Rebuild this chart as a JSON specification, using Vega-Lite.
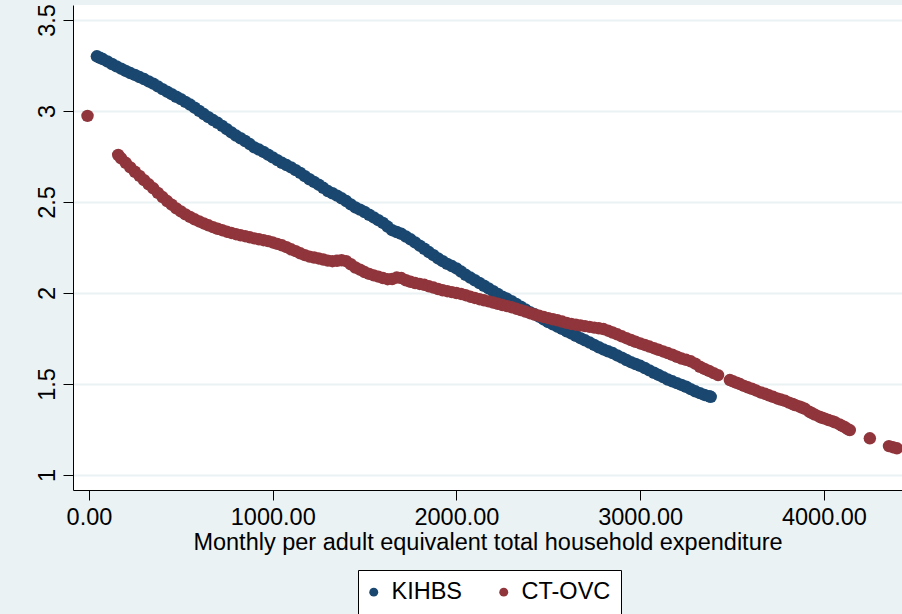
{
 "$schema": "https://vega.github.io/schema/vega-lite/v6.json",
 "width": 829,
 "height": 485,
 "autosize": {"type": "none"},
 "padding": {"left": 73, "top": 5, "right": 0, "bottom": 124},
 "background": "#EAF2F3",
 "config": {
  "view": {"fill": "white", "stroke": null},
  "font": "Liberation Sans",
  "axis": {
   "domainColor": "#000000",
   "domainWidth": 1,
   "tickColor": "#000000",
   "tickWidth": 1,
   "tickSize": 10,
   "labelColor": "#000000",
   "labelFont": "Liberation Sans",
   "labelFontSize": 23.5,
   "titleColor": "#000000",
   "titleFont": "Liberation Sans",
   "titleFontSize": 23.5,
   "titleFontWeight": "normal"
  }
 },
 "data": {"values": [
  {"s":"KIHBS","x":43,"y":3.300},{"s":"KIHBS","x":60,"y":3.292},{"s":"KIHBS","x":75,"y":3.285},{"s":"KIHBS","x":100,"y":3.272},
  {"s":"KIHBS","x":125,"y":3.258},{"s":"KIHBS","x":150,"y":3.245},{"s":"KIHBS","x":175,"y":3.232},{"s":"KIHBS","x":200,"y":3.220},
  {"s":"KIHBS","x":225,"y":3.208},{"s":"KIHBS","x":250,"y":3.198},{"s":"KIHBS","x":275,"y":3.186},{"s":"KIHBS","x":300,"y":3.175},
  {"s":"KIHBS","x":325,"y":3.162},{"s":"KIHBS","x":350,"y":3.150},{"s":"KIHBS","x":375,"y":3.135},{"s":"KIHBS","x":400,"y":3.120},
  {"s":"KIHBS","x":425,"y":3.106},{"s":"KIHBS","x":450,"y":3.092},{"s":"KIHBS","x":475,"y":3.078},{"s":"KIHBS","x":500,"y":3.065},
  {"s":"KIHBS","x":525,"y":3.050},{"s":"KIHBS","x":550,"y":3.035},{"s":"KIHBS","x":575,"y":3.018},{"s":"KIHBS","x":600,"y":3.000},
  {"s":"KIHBS","x":625,"y":2.983},{"s":"KIHBS","x":650,"y":2.966},{"s":"KIHBS","x":675,"y":2.950},{"s":"KIHBS","x":700,"y":2.935},
  {"s":"KIHBS","x":725,"y":2.918},{"s":"KIHBS","x":750,"y":2.900},{"s":"KIHBS","x":775,"y":2.882},{"s":"KIHBS","x":800,"y":2.865},
  {"s":"KIHBS","x":825,"y":2.850},{"s":"KIHBS","x":850,"y":2.835},{"s":"KIHBS","x":875,"y":2.818},{"s":"KIHBS","x":900,"y":2.800},
  {"s":"KIHBS","x":925,"y":2.788},{"s":"KIHBS","x":950,"y":2.775},{"s":"KIHBS","x":975,"y":2.760},{"s":"KIHBS","x":1000,"y":2.745},
  {"s":"KIHBS","x":1025,"y":2.730},{"s":"KIHBS","x":1050,"y":2.715},{"s":"KIHBS","x":1075,"y":2.703},{"s":"KIHBS","x":1100,"y":2.690},
  {"s":"KIHBS","x":1125,"y":2.675},{"s":"KIHBS","x":1150,"y":2.660},{"s":"KIHBS","x":1175,"y":2.642},{"s":"KIHBS","x":1200,"y":2.625},
  {"s":"KIHBS","x":1225,"y":2.610},{"s":"KIHBS","x":1250,"y":2.595},{"s":"KIHBS","x":1275,"y":2.578},{"s":"KIHBS","x":1300,"y":2.560},
  {"s":"KIHBS","x":1325,"y":2.548},{"s":"KIHBS","x":1350,"y":2.535},{"s":"KIHBS","x":1375,"y":2.520},{"s":"KIHBS","x":1400,"y":2.505},
  {"s":"KIHBS","x":1425,"y":2.487},{"s":"KIHBS","x":1450,"y":2.470},{"s":"KIHBS","x":1475,"y":2.458},{"s":"KIHBS","x":1500,"y":2.445},
  {"s":"KIHBS","x":1525,"y":2.430},{"s":"KIHBS","x":1550,"y":2.415},{"s":"KIHBS","x":1575,"y":2.400},{"s":"KIHBS","x":1600,"y":2.385},
  {"s":"KIHBS","x":1625,"y":2.365},{"s":"KIHBS","x":1650,"y":2.345},{"s":"KIHBS","x":1675,"y":2.335},{"s":"KIHBS","x":1700,"y":2.325},
  {"s":"KIHBS","x":1725,"y":2.310},{"s":"KIHBS","x":1750,"y":2.295},{"s":"KIHBS","x":1775,"y":2.278},{"s":"KIHBS","x":1800,"y":2.260},
  {"s":"KIHBS","x":1825,"y":2.243},{"s":"KIHBS","x":1850,"y":2.225},{"s":"KIHBS","x":1875,"y":2.208},{"s":"KIHBS","x":1900,"y":2.190},
  {"s":"KIHBS","x":1925,"y":2.175},{"s":"KIHBS","x":1950,"y":2.160},{"s":"KIHBS","x":1975,"y":2.148},{"s":"KIHBS","x":2000,"y":2.135},
  {"s":"KIHBS","x":2025,"y":2.118},{"s":"KIHBS","x":2050,"y":2.100},{"s":"KIHBS","x":2075,"y":2.085},{"s":"KIHBS","x":2100,"y":2.070},
  {"s":"KIHBS","x":2125,"y":2.055},{"s":"KIHBS","x":2150,"y":2.040},{"s":"KIHBS","x":2175,"y":2.025},{"s":"KIHBS","x":2200,"y":2.010},
  {"s":"KIHBS","x":2225,"y":1.995},{"s":"KIHBS","x":2250,"y":1.980},{"s":"KIHBS","x":2275,"y":1.968},{"s":"KIHBS","x":2300,"y":1.955},
  {"s":"KIHBS","x":2325,"y":1.940},{"s":"KIHBS","x":2350,"y":1.925},{"s":"KIHBS","x":2375,"y":1.910},{"s":"KIHBS","x":2400,"y":1.895},
  {"s":"KIHBS","x":2425,"y":1.883},{"s":"KIHBS","x":2450,"y":1.870},{"s":"KIHBS","x":2475,"y":1.855},{"s":"KIHBS","x":2500,"y":1.840},
  {"s":"KIHBS","x":2525,"y":1.828},{"s":"KIHBS","x":2550,"y":1.815},{"s":"KIHBS","x":2575,"y":1.803},{"s":"KIHBS","x":2600,"y":1.790},
  {"s":"KIHBS","x":2625,"y":1.778},{"s":"KIHBS","x":2650,"y":1.765},{"s":"KIHBS","x":2675,"y":1.752},{"s":"KIHBS","x":2700,"y":1.740},
  {"s":"KIHBS","x":2725,"y":1.728},{"s":"KIHBS","x":2750,"y":1.715},{"s":"KIHBS","x":2775,"y":1.702},{"s":"KIHBS","x":2800,"y":1.690},
  {"s":"KIHBS","x":2825,"y":1.680},{"s":"KIHBS","x":2850,"y":1.670},{"s":"KIHBS","x":2875,"y":1.657},{"s":"KIHBS","x":2900,"y":1.645},
  {"s":"KIHBS","x":2925,"y":1.632},{"s":"KIHBS","x":2950,"y":1.620},{"s":"KIHBS","x":2975,"y":1.610},{"s":"KIHBS","x":3000,"y":1.600},
  {"s":"KIHBS","x":3025,"y":1.588},{"s":"KIHBS","x":3050,"y":1.575},{"s":"KIHBS","x":3075,"y":1.562},{"s":"KIHBS","x":3100,"y":1.550},
  {"s":"KIHBS","x":3125,"y":1.538},{"s":"KIHBS","x":3150,"y":1.525},{"s":"KIHBS","x":3175,"y":1.515},{"s":"KIHBS","x":3200,"y":1.505},
  {"s":"KIHBS","x":3225,"y":1.495},{"s":"KIHBS","x":3250,"y":1.485},{"s":"KIHBS","x":3275,"y":1.472},{"s":"KIHBS","x":3300,"y":1.460},
  {"s":"KIHBS","x":3325,"y":1.450},{"s":"KIHBS","x":3350,"y":1.440},{"s":"KIHBS","x":3375,"y":1.433},{"s":"KIHBS","x":3384,"y":1.430},
  {"s":"CT-OVC","x":-8,"y":2.973},
  {"s":"CT-OVC","x":159,"y":2.758},{"s":"CT-OVC","x":175,"y":2.740},{"s":"CT-OVC","x":200,"y":2.715},{"s":"CT-OVC","x":225,"y":2.690},
  {"s":"CT-OVC","x":250,"y":2.666},{"s":"CT-OVC","x":275,"y":2.643},{"s":"CT-OVC","x":300,"y":2.620},{"s":"CT-OVC","x":325,"y":2.597},
  {"s":"CT-OVC","x":350,"y":2.575},{"s":"CT-OVC","x":375,"y":2.550},{"s":"CT-OVC","x":400,"y":2.527},{"s":"CT-OVC","x":425,"y":2.505},
  {"s":"CT-OVC","x":450,"y":2.485},{"s":"CT-OVC","x":475,"y":2.465},{"s":"CT-OVC","x":500,"y":2.448},{"s":"CT-OVC","x":525,"y":2.432},
  {"s":"CT-OVC","x":550,"y":2.418},{"s":"CT-OVC","x":575,"y":2.405},{"s":"CT-OVC","x":600,"y":2.393},{"s":"CT-OVC","x":625,"y":2.382},
  {"s":"CT-OVC","x":650,"y":2.372},{"s":"CT-OVC","x":675,"y":2.362},{"s":"CT-OVC","x":700,"y":2.353},{"s":"CT-OVC","x":725,"y":2.345},
  {"s":"CT-OVC","x":750,"y":2.337},{"s":"CT-OVC","x":775,"y":2.330},{"s":"CT-OVC","x":800,"y":2.323},{"s":"CT-OVC","x":825,"y":2.317},
  {"s":"CT-OVC","x":850,"y":2.312},{"s":"CT-OVC","x":875,"y":2.306},{"s":"CT-OVC","x":900,"y":2.300},{"s":"CT-OVC","x":925,"y":2.295},
  {"s":"CT-OVC","x":950,"y":2.290},{"s":"CT-OVC","x":975,"y":2.285},{"s":"CT-OVC","x":1000,"y":2.278},{"s":"CT-OVC","x":1025,"y":2.270},
  {"s":"CT-OVC","x":1050,"y":2.262},{"s":"CT-OVC","x":1075,"y":2.252},{"s":"CT-OVC","x":1100,"y":2.240},{"s":"CT-OVC","x":1125,"y":2.230},
  {"s":"CT-OVC","x":1150,"y":2.218},{"s":"CT-OVC","x":1175,"y":2.208},{"s":"CT-OVC","x":1200,"y":2.200},{"s":"CT-OVC","x":1225,"y":2.195},
  {"s":"CT-OVC","x":1250,"y":2.190},{"s":"CT-OVC","x":1275,"y":2.184},{"s":"CT-OVC","x":1300,"y":2.178},{"s":"CT-OVC","x":1325,"y":2.175},
  {"s":"CT-OVC","x":1350,"y":2.177},{"s":"CT-OVC","x":1375,"y":2.180},{"s":"CT-OVC","x":1400,"y":2.175},{"s":"CT-OVC","x":1425,"y":2.158},
  {"s":"CT-OVC","x":1450,"y":2.140},{"s":"CT-OVC","x":1475,"y":2.128},{"s":"CT-OVC","x":1500,"y":2.115},{"s":"CT-OVC","x":1525,"y":2.105},
  {"s":"CT-OVC","x":1550,"y":2.097},{"s":"CT-OVC","x":1575,"y":2.090},{"s":"CT-OVC","x":1600,"y":2.082},{"s":"CT-OVC","x":1625,"y":2.076},
  {"s":"CT-OVC","x":1650,"y":2.077},{"s":"CT-OVC","x":1675,"y":2.085},{"s":"CT-OVC","x":1700,"y":2.082},{"s":"CT-OVC","x":1725,"y":2.070},
  {"s":"CT-OVC","x":1750,"y":2.062},{"s":"CT-OVC","x":1775,"y":2.055},{"s":"CT-OVC","x":1800,"y":2.050},{"s":"CT-OVC","x":1825,"y":2.045},
  {"s":"CT-OVC","x":1850,"y":2.037},{"s":"CT-OVC","x":1875,"y":2.030},{"s":"CT-OVC","x":1900,"y":2.022},{"s":"CT-OVC","x":1925,"y":2.015},
  {"s":"CT-OVC","x":1950,"y":2.010},{"s":"CT-OVC","x":1975,"y":2.005},{"s":"CT-OVC","x":2000,"y":2.000},{"s":"CT-OVC","x":2025,"y":1.995},
  {"s":"CT-OVC","x":2050,"y":1.988},{"s":"CT-OVC","x":2075,"y":1.980},{"s":"CT-OVC","x":2100,"y":1.973},{"s":"CT-OVC","x":2125,"y":1.966},
  {"s":"CT-OVC","x":2150,"y":1.960},{"s":"CT-OVC","x":2175,"y":1.954},{"s":"CT-OVC","x":2200,"y":1.948},{"s":"CT-OVC","x":2225,"y":1.941},
  {"s":"CT-OVC","x":2250,"y":1.934},{"s":"CT-OVC","x":2275,"y":1.928},{"s":"CT-OVC","x":2300,"y":1.922},{"s":"CT-OVC","x":2325,"y":1.914},
  {"s":"CT-OVC","x":2350,"y":1.906},{"s":"CT-OVC","x":2375,"y":1.898},{"s":"CT-OVC","x":2400,"y":1.889},{"s":"CT-OVC","x":2425,"y":1.882},
  {"s":"CT-OVC","x":2450,"y":1.875},{"s":"CT-OVC","x":2475,"y":1.868},{"s":"CT-OVC","x":2500,"y":1.862},{"s":"CT-OVC","x":2525,"y":1.856},
  {"s":"CT-OVC","x":2550,"y":1.850},{"s":"CT-OVC","x":2575,"y":1.843},{"s":"CT-OVC","x":2600,"y":1.836},{"s":"CT-OVC","x":2625,"y":1.830},
  {"s":"CT-OVC","x":2650,"y":1.826},{"s":"CT-OVC","x":2675,"y":1.822},{"s":"CT-OVC","x":2700,"y":1.818},{"s":"CT-OVC","x":2725,"y":1.814},
  {"s":"CT-OVC","x":2750,"y":1.810},{"s":"CT-OVC","x":2775,"y":1.806},{"s":"CT-OVC","x":2800,"y":1.802},{"s":"CT-OVC","x":2825,"y":1.793},
  {"s":"CT-OVC","x":2850,"y":1.783},{"s":"CT-OVC","x":2875,"y":1.773},{"s":"CT-OVC","x":2900,"y":1.762},{"s":"CT-OVC","x":2925,"y":1.752},
  {"s":"CT-OVC","x":2950,"y":1.742},{"s":"CT-OVC","x":2975,"y":1.732},{"s":"CT-OVC","x":3000,"y":1.723},{"s":"CT-OVC","x":3025,"y":1.715},
  {"s":"CT-OVC","x":3050,"y":1.706},{"s":"CT-OVC","x":3075,"y":1.697},{"s":"CT-OVC","x":3100,"y":1.688},{"s":"CT-OVC","x":3125,"y":1.679},
  {"s":"CT-OVC","x":3150,"y":1.670},{"s":"CT-OVC","x":3175,"y":1.661},{"s":"CT-OVC","x":3200,"y":1.650},{"s":"CT-OVC","x":3225,"y":1.640},
  {"s":"CT-OVC","x":3250,"y":1.633},{"s":"CT-OVC","x":3275,"y":1.625},{"s":"CT-OVC","x":3300,"y":1.612},{"s":"CT-OVC","x":3325,"y":1.595},
  {"s":"CT-OVC","x":3350,"y":1.583},{"s":"CT-OVC","x":3375,"y":1.572},{"s":"CT-OVC","x":3400,"y":1.560},{"s":"CT-OVC","x":3424,"y":1.549},
  {"s":"CT-OVC","x":3488,"y":1.522},{"s":"CT-OVC","x":3505,"y":1.515},{"s":"CT-OVC","x":3525,"y":1.507},{"s":"CT-OVC","x":3543,"y":1.500},
  {"s":"CT-OVC","x":3565,"y":1.490},{"s":"CT-OVC","x":3585,"y":1.482},{"s":"CT-OVC","x":3608,"y":1.474},{"s":"CT-OVC","x":3630,"y":1.465},
  {"s":"CT-OVC","x":3655,"y":1.454},{"s":"CT-OVC","x":3679,"y":1.447},{"s":"CT-OVC","x":3700,"y":1.438},{"s":"CT-OVC","x":3723,"y":1.430},
  {"s":"CT-OVC","x":3745,"y":1.421},{"s":"CT-OVC","x":3765,"y":1.415},{"s":"CT-OVC","x":3788,"y":1.408},{"s":"CT-OVC","x":3810,"y":1.398},
  {"s":"CT-OVC","x":3830,"y":1.390},{"s":"CT-OVC","x":3842,"y":1.385},{"s":"CT-OVC","x":3865,"y":1.377},{"s":"CT-OVC","x":3880,"y":1.371},
  {"s":"CT-OVC","x":3897,"y":1.364},{"s":"CT-OVC","x":3920,"y":1.348},{"s":"CT-OVC","x":3935,"y":1.340},{"s":"CT-OVC","x":3951,"y":1.332},
  {"s":"CT-OVC","x":3975,"y":1.321},{"s":"CT-OVC","x":3990,"y":1.315},{"s":"CT-OVC","x":4005,"y":1.310},{"s":"CT-OVC","x":4025,"y":1.302},
  {"s":"CT-OVC","x":4045,"y":1.296},{"s":"CT-OVC","x":4060,"y":1.290},{"s":"CT-OVC","x":4085,"y":1.278},{"s":"CT-OVC","x":4100,"y":1.270},
  {"s":"CT-OVC","x":4114,"y":1.263},{"s":"CT-OVC","x":4130,"y":1.252},{"s":"CT-OVC","x":4141,"y":1.247},{"s":"CT-OVC","x":4250,"y":1.202},
  {"s":"CT-OVC","x":4354,"y":1.159},{"s":"CT-OVC","x":4375,"y":1.153},{"s":"CT-OVC","x":4397,"y":1.147}
 ]},
 "mark": {"type": "circle", "size": 155, "opacity": 1},
 "encoding": {
  "x": {
   "field": "x", "type": "quantitative",
   "scale": {"domain": [-87, 4425], "nice": false, "zero": false},
   "axis": {
    "values": [0, 1000, 2000, 3000, 4000],
    "format": ".2f",
    "grid": false,
    "labelPadding": 5,
    "titlePadding": 2,
    "title": "Monthly per adult equivalent total household expenditure"
   }
  },
  "y": {
   "field": "y", "type": "quantitative",
   "scale": {"domain": [0.918, 3.582], "nice": false, "zero": false},
   "axis": {
    "values": [1, 1.5, 2, 2.5, 3, 3.5],
    "format": ".1~f",
    "title": null,
    "grid": true,
    "gridColor": "#EAF2F3",
    "gridWidth": 2,
    "labelAngle": 270,
    "labelAlign": "center",
    "labelBaseline": "bottom",
    "labelPadding": 4
   }
  },
  "color": {
   "field": "s", "type": "nominal",
   "scale": {"domain": ["KIHBS", "CT-OVC"], "range": ["#1A476F", "#90353B"]},
   "legend": {
    "title": null,
    "orient": "none",
    "legendX": 285,
    "legendY": 565,
    "direction": "horizontal",
    "fillColor": "white",
    "strokeColor": "#000000",
    "padding": 10,
    "symbolType": "circle",
    "symbolSize": 80,
    "symbolStrokeWidth": 0,
    "symbolOffset": -6,
    "labelFont": "Liberation Sans",
    "labelFontSize": 23.5,
    "labelColor": "#000000",
    "labelOffset": 6,
    "columnPadding": 35
   }
  }
 }
}
